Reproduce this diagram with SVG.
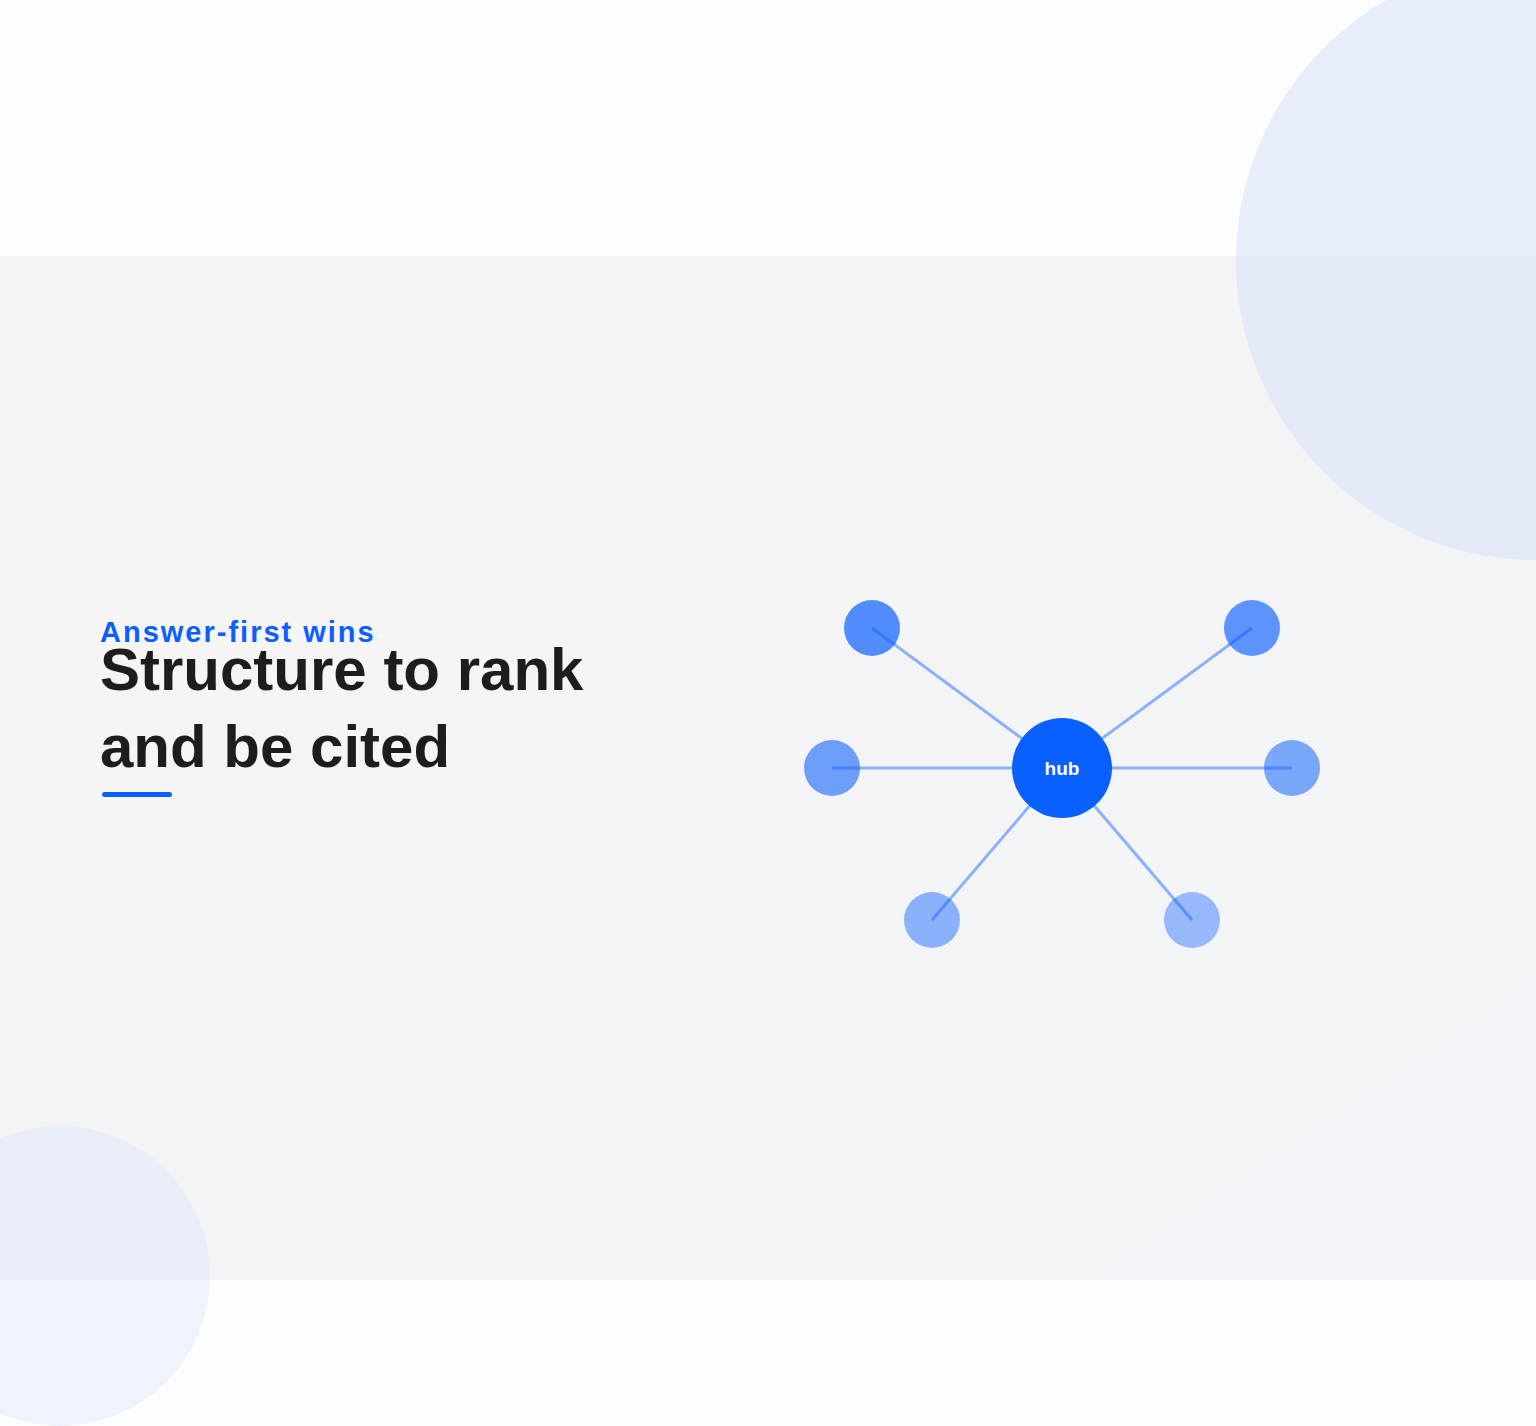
<svg xmlns="http://www.w3.org/2000/svg" width="1536" height="1426" viewBox="0 0 1536 1426">
<defs>
<linearGradient id="bg" x1="0" y1="0" x2="1" y2="1">
<stop offset="0" stop-color="#f8f4f4"/><stop offset="1" stop-color="#f1f5f9"/>
</linearGradient>
<style>
.sat{fill:#0a5fff}
.ln{stroke:#0a5fff;stroke-opacity:0.45;stroke-width:3;fill:none}
.t{font-family:"Liberation Sans",Arial,sans-serif;font-weight:bold}
</style>
</defs>
<rect width="1536" height="1426" fill="#fdfdfd"/>
<rect y="256" width="1536" height="1024" fill="url(#bg)"/>
<circle cx="1536" cy="260" r="300" fill="#d4e0f8" fill-opacity="0.5"/>
<circle cx="60" cy="1276" r="150" fill="#dce6fa" fill-opacity="0.45"/>
<g id="title">
<text class="t" x="100" y="642" font-size="29" fill="#0a5fff" letter-spacing="2">Answer-first wins</text>
<text class="t" x="100" y="690" font-size="60" fill="#1e1c1d">Structure to rank</text>
<text class="t" x="100" y="767" font-size="60" fill="#1e1c1d">and be cited</text>
<rect x="102" y="792" width="70" height="5" rx="2.5" fill="#0a5fff"/>
</g>
<g id="n1"><circle class="sat" cx="872" cy="628" r="28" fill-opacity="0.7"/></g>
<g id="n2"><circle class="sat" cx="1252" cy="628" r="28" fill-opacity="0.65"/></g>
<g id="n3"><circle class="sat" cx="832" cy="768" r="28" fill-opacity="0.58"/></g>
<g id="n4"><circle class="sat" cx="1292" cy="768" r="28" fill-opacity="0.52"/></g>
<g id="n5"><circle class="sat" cx="932" cy="920" r="28" fill-opacity="0.45"/></g>
<g id="n6"><circle class="sat" cx="1192" cy="920" r="28" fill-opacity="0.4"/></g>
<g id="connectors">
<line class="ln" x1="1062" y1="768" x2="872" y2="628"/>
<line class="ln" x1="1062" y1="768" x2="1252" y2="628"/>
<line class="ln" x1="1062" y1="768" x2="832" y2="768"/>
<line class="ln" x1="1062" y1="768" x2="1292" y2="768"/>
<line class="ln" x1="1062" y1="768" x2="932" y2="920"/>
<line class="ln" x1="1062" y1="768" x2="1192" y2="920"/>
</g>
<g id="hub">
<circle cx="1062" cy="768" r="50" fill="#0a5fff"/>
<text class="t" x="1062" y="775" font-size="19" fill="#ffffff" text-anchor="middle">hub</text>
</g>
</svg>
